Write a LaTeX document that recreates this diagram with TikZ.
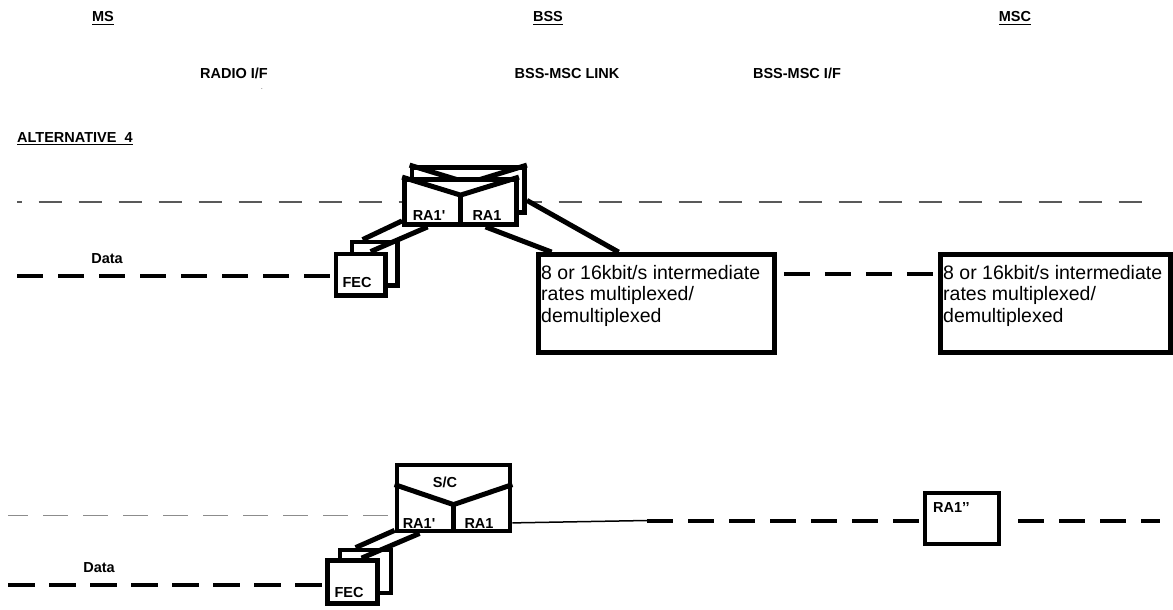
\documentclass[tikz,border=0pt]{standalone}
\usepackage{fontspec}
\setmainfont{Liberation Sans}
\newfontfamily\lsans{Liberation Sans}
\usetikzlibrary{calc}
\newcommand\ulin[1]{\setbox0=\hbox{#1}\rlap{\rule[-3.2pt]{\wd0}{1.4pt}}\box0}
\tikzset{
 lbl/.style={font=\lsans\fontsize{14.5}{17}\selectfont\bfseries, inner sep=0pt, anchor=base},
 blk/.style={draw, line width=4.8pt, fill=white, inner sep=0pt},
 thk/.style={line width=5pt},
 datadash/.style={line width=4pt, dash pattern=on 26pt off 15pt},
 refdash/.style={line width=1.3pt, dash pattern=on 23.5pt off 16.5pt},
 muxtext/.style={font=\fontsize{19.5}{21.5}\selectfont, align=left, inner sep=0pt, anchor=north west},
}
\begin{document}
\begin{tikzpicture}[x=1pt,y=-1pt]
\useasboundingbox[fill=white] (0,0) rectangle (1173,610);
% headers
\node[lbl] (ms) at (103,22) {\ulin{MS}};
\node[lbl] (bss) at (548,22) {\ulin{BSS}};
\node[lbl] (msc) at (1015,22) {\ulin{MSC}};
\node[lbl] (radio) at (234,79) {RADIO I/F};
\node[inner sep=0pt, font=\fontsize{6}{6}\selectfont] (dot) at (262,89) {.};
\node[lbl] (link) at (567,79) {BSS-MSC LINK};
\node[lbl] (iface) at (797,79) {BSS-MSC I/F};
\node[lbl, anchor=base west] (alt) at (17,142) {\ulin{ALTERNATIVE~~4}};

% reference line (top)
\coordinate (gT) at (17,202);
\coordinate (gTend) at (1142,202);
\draw[refdash, black!65, dash phase=18.5pt] (gT) -- (gTend);

% top FEC
\node[blk, minimum width=45.5pt, minimum height=43.5pt] (fecTb) at (374.75,263.75) {};
\node[blk, minimum width=49.5pt, minimum height=41.5pt] (fecTf) at (360.75,274.75) {};
\node[lbl] (fecTt) at (357,287) {FEC};

% top RA box
\node[blk, minimum width=112.5pt, minimum height=45pt] (raTb) at (468.25,190) {};
\draw[thk] (raTb.north west) -- ($(raTb.north)+(0,18)$) -- (raTb.north east);
\node[blk, minimum width=112pt, minimum height=45pt] (raTf) at (460.5,202) {};
\draw[thk] (raTf.north west) -- ($(raTf.north)+(0,18)$) coordinate (raTv) -- (raTf.north east);
\draw[thk] (raTv) -- (raTf.south);
\node[lbl] (raTl) at (429,220) {RA1'};
\node[lbl] (raTr) at (487,220) {RA1};

% multiplexer boxes
\node[blk, minimum width=236pt, minimum height=98pt] (muxL) at (656.5,303.5) {};
\node[muxtext] (muxLt) at (541,264.8) {8 or 16kbit/s intermediate\\rates multiplexed/\\demultiplexed};
\node[blk, minimum width=230pt, minimum height=98pt] (muxR) at (1055.5,303.5) {};
\node[muxtext] (muxRt) at (943,264.8) {8 or 16kbit/s intermediate\\rates multiplexed/\\demultiplexed};

% top connectors
\coordinate (dT) at (17,276);
\draw[datadash] (dT) -- (dT -| fecTf.west);
\draw[datadash, dash phase=34pt] ($(muxL.north east)+(0,21.5)$) -- ($(muxR.north west)+(0,21.5)$);
\draw[thk] ($(fecTb.north west)+(13,0)$) -- ($(raTf.south west)+(0,-6)$);
\draw[thk] ($(fecTf.north west)+(37,0)$) -- ($(raTf.south west)+(25.5,0)$);
\draw[thk] ($(raTf.south west)+(83.5,0)$) -- ($(muxL.north west)+(15.5,0)$);
\draw[thk] ($(raTb.south east)+(0,-14.5)$) -- ($(muxL.north west)+(82.5,0)$);
\node[lbl] (dataT) at (107,263) {Data};

% bottom section
\node[blk, minimum width=113pt, minimum height=66pt] (sc) at (453.5,498) {};
\draw[thk] ($(sc.north west)+(0,22)$) -- ($(sc.north)+(0,42)$) coordinate (scv) -- ($(sc.north east)+(0,22)$);
\draw[thk] (scv) -- (sc.south);
\node[lbl] (sct) at (445,487) {S/C};
\node[lbl] (scl) at (419,528) {RA1'};
\node[lbl] (scr) at (479,528) {RA1};

\coordinate (gB) at (8,515.5);
\draw[refdash, black!45, dash pattern=on 25pt off 15pt, dash phase=5pt] (gB) -- (gB -| sc.west);

\node[blk, minimum width=51pt, minimum height=43pt] (fecBb) at (365.5,571.5) {};
\node[blk, minimum width=50pt, minimum height=43pt] (fecBf) at (352.5,582) {};
\node[lbl] (fecBt) at (349,597) {FEC};

\coordinate (dB) at (8,585);
\draw[datadash, dash pattern=on 27pt off 14pt] (dB) -- (dB -| fecBf.west);
\draw[thk] ($(fecBb.north west)+(18,0)$) -- ($(sc.south west)+(0,-3)$);
\draw[thk] ($(fecBf.north west)+(36.5,0)$) -- ($(sc.south west)+(25,0)$);
\node[lbl] (dataB) at (99,572) {Data};

\node[blk, minimum width=74pt, minimum height=51pt] (ra2) at (962,518.5) {};
\node[lbl, anchor=base west] (ra2t) at (933,512) {RA1’’};
\coordinate (tEnd) at (647,520.5);
\draw[line width=1.5pt] ($(sc.south east)+(0,-10.5)$) -- (tEnd);
\draw[datadash] (tEnd) -- (tEnd -| ra2.west);
\coordinate (dEnd) at (1160,520.5);
\draw[datadash, dash phase=26pt] ($(ra2.east |- dEnd)+(2,0)$) -- (dEnd);
\end{tikzpicture}
\end{document}
